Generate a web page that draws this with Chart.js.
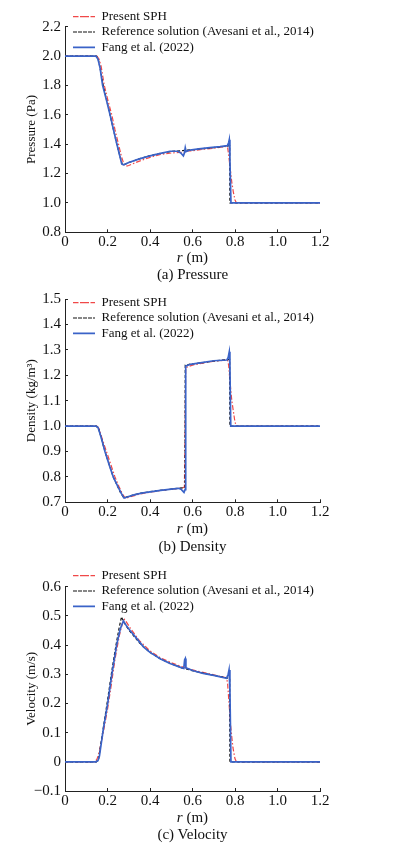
<!DOCTYPE html>
<html>
<head>
<title>Pressure, density and velocity</title>
<script src="https://cdn.jsdelivr.net/npm/chart.js"></script>
<style>
  body { margin: 0; background: #fff; width: 394px; height: 851px; position: relative; overflow: hidden;
         font-family: 'Liberation Serif', 'Times New Roman', serif; color: #111; }
  canvas { position: absolute; left: 0; }
  .lbl { position: absolute; left: 65px; width: 255px; text-align: center; font-size: 15px; line-height: 16px; }
</style>
</head>
<body>
<canvas id="c1" width="394" height="283" style="top:0px"></canvas>
<canvas id="c2" width="394" height="283" style="top:283px"></canvas>
<canvas id="c3" width="394" height="285" style="top:566px"></canvas>

<div class="lbl" style="top:249px"><i>r</i> (m)</div>
<div class="lbl" style="top:266px">(a) Pressure</div>
<div class="lbl" style="top:520px"><i>r</i> (m)</div>
<div class="lbl" style="top:538px">(b) Density</div>
<div class="lbl" style="top:809px"><i>r</i> (m)</div>
<div class="lbl" style="top:826px">(c) Velocity</div>

<script>
// legend names
const names = ['Present SPH', 'Reference solution (Avesani et al., 2014)', 'Fang et al. (2022)'];

// x ticks shared by all panels
const rTicks = [0, 0.2, 0.4, 0.6, 0.8, 1.0, 1.2];

// (a) pressure, [r, p]
const pressureTicks = [0.8, 1.0, 1.2, 1.4, 1.6, 1.8, 2.0, 2.2];
const pressureSPH = [[0,2.0],[0.15,2.0],[0.16,1.98],[0.17,1.93],[0.185,1.80],[0.20,1.71],[0.22,1.60],[0.235,1.50],
  [0.25,1.41],[0.265,1.32],[0.278,1.26],[0.288,1.25],[0.30,1.255],[0.35,1.285],[0.40,1.31],[0.45,1.33],[0.50,1.34],
  [0.55,1.345],[0.56,1.34],[0.575,1.355],[0.60,1.355],[0.65,1.365],[0.70,1.372],[0.76,1.385],[0.765,1.38],[0.77,1.33],
  [0.777,1.24],[0.785,1.14],[0.792,1.076],[0.80,1.02],[0.807,1.0],[1.2,1.0]];
const pressureRef = [[0,2.0],[0.148,2.0],[0.158,1.97],[0.17,1.88],[0.18,1.80],[0.212,1.60],[0.243,1.405],[0.262,1.30],
  [0.27,1.26],[0.28,1.262],[0.30,1.275],[0.35,1.30],[0.40,1.322],[0.45,1.338],[0.50,1.35],[0.55,1.356],[0.60,1.362],
  [0.65,1.37],[0.70,1.377],[0.75,1.385],[0.775,1.39],[0.776,1.0],[1.2,1.0]];
const pressureFang = [[0,2.0],[0.145,2.0],[0.155,1.98],[0.165,1.92],[0.177,1.80],[0.195,1.70],[0.212,1.60],[0.228,1.50],
  [0.243,1.406],[0.258,1.32],[0.267,1.265],[0.275,1.26],[0.285,1.265],[0.30,1.275],[0.35,1.30],[0.40,1.32],[0.45,1.337],
  [0.494,1.352],[0.53,1.352],[0.545,1.34],[0.557,1.32],[0.562,1.34],[0.566,1.376],[0.57,1.35],[0.588,1.36],[0.63,1.368],
  [0.682,1.376],[0.73,1.383],[0.764,1.39],[0.77,1.41],[0.773,1.43],[0.776,1.3],[0.781,1.0],[1.2,1.0]];

// (b) density, [r, rho]
const densityTicks = [0.7, 0.8, 0.9, 1.0, 1.1, 1.2, 1.3, 1.4, 1.5];
const densitySPH = [[0,1.0],[0.15,1.0],[0.16,0.99],[0.175,0.95],[0.195,0.90],[0.215,0.85],[0.235,0.80],[0.255,0.76],
  [0.272,0.73],[0.285,0.715],[0.30,0.72],[0.35,0.732],[0.40,0.74],[0.45,0.746],[0.50,0.752],[0.55,0.756],[0.562,0.76],
  [0.568,1.23],[0.60,1.24],[0.65,1.248],[0.70,1.255],[0.765,1.26],[0.77,1.24],[0.777,1.17],[0.785,1.1],[0.792,1.06],
  [0.80,1.015],[0.807,1.0],[1.2,1.0]];
const densityRef = [[0,1.0],[0.148,1.0],[0.16,0.985],[0.175,0.94],[0.19,0.895],[0.227,0.80],[0.26,0.74],[0.275,0.72],
  [0.285,0.72],[0.35,0.735],[0.40,0.742],[0.50,0.752],[0.565,0.758],[0.566,1.24],[0.60,1.245],[0.65,1.25],[0.70,1.256],
  [0.775,1.262],[0.776,1.0],[1.2,1.0]];
const densityFang = [[0,1.0],[0.145,1.0],[0.155,0.995],[0.165,0.97],[0.175,0.94],[0.188,0.90],[0.207,0.85],[0.227,0.80],
  [0.25,0.76],[0.265,0.735],[0.278,0.717],[0.29,0.72],[0.32,0.728],[0.36,0.736],[0.40,0.741],[0.45,0.747],[0.50,0.752],
  [0.535,0.755],[0.548,0.75],[0.56,0.739],[0.565,0.75],[0.568,1.236],[0.59,1.243],[0.636,1.249],[0.70,1.257],
  [0.762,1.26],[0.768,1.27],[0.773,1.292],[0.776,1.24],[0.78,1.0],[1.2,1.0]];

// (c) velocity, [r, u]
const velocityTicks = [-0.1, 0, 0.1, 0.2, 0.3, 0.4, 0.5, 0.6];
const velocitySPH = [[0,0],[0.14,0],[0.15,0.008],[0.16,0.03],[0.18,0.1],[0.2,0.18],[0.215,0.25],[0.235,0.35],
  [0.255,0.43],[0.27,0.475],[0.28,0.488],[0.29,0.478],[0.31,0.455],[0.35,0.415],[0.40,0.38],[0.45,0.356],[0.50,0.34],
  [0.55,0.326],[0.60,0.315],[0.70,0.298],[0.76,0.288],[0.765,0.27],[0.772,0.2],[0.78,0.12],[0.79,0.05],[0.80,0.01],
  [0.807,0],[1.2,0]];
const velocityRef = [[0,0],[0.148,0],[0.158,0.01],[0.18,0.115],[0.2,0.21],[0.22,0.31],[0.24,0.40],[0.255,0.46],
  [0.266,0.497],[0.27,0.49],[0.28,0.475],[0.30,0.452],[0.35,0.408],[0.40,0.375],[0.45,0.352],[0.50,0.336],[0.55,0.322],
  [0.60,0.312],[0.70,0.296],[0.775,0.286],[0.776,0],[1.2,0]];
const velocityFang = [[0,0],[0.145,0],[0.155,0.004],[0.162,0.02],[0.18,0.11],[0.201,0.20],[0.22,0.297],[0.243,0.40],
  [0.26,0.455],[0.275,0.483],[0.29,0.465],[0.306,0.45],[0.337,0.423],[0.369,0.394],[0.40,0.375],[0.45,0.352],
  [0.494,0.337],[0.55,0.322],[0.559,0.32],[0.563,0.35],[0.566,0.354],[0.569,0.322],[0.604,0.312],[0.65,0.303],
  [0.70,0.296],[0.76,0.286],[0.768,0.3],[0.772,0.315],[0.776,0.25],[0.781,0],[1.2,0]];

const serif = "'Liberation Serif', 'Times New Roman', serif";

function fmt(v) {
  if (Math.abs(v) < 1e-9) return '0';
  return v.toFixed(1).replace('-', '\u2212');
}

function toXY(arr) {
  return arr.map(p => ({x: p[0], y: p[1]}));
}

function makeChart(id, opt) {
  const h = document.getElementById(id).height;
  // datasets listed Fang first so it is drawn on top; legend reversed to read SPH, Ref, Fang
  const datasets = [
    {label: names[2], data: toXY(opt.fang), borderColor: '#3a63c8', borderWidth: 1.7},
    {label: names[1], data: toXY(opt.ref), borderColor: '#111', borderWidth: 1.2, borderDash: [3, 2]},
    {label: names[0], data: toXY(opt.sph), borderColor: '#f04848', borderWidth: 1.2, borderDash: [5, 2, 1.5, 2]}
  ];
  return new Chart(document.getElementById(id), {
    type: 'line',
    data: {datasets: datasets},
    options: {
      responsive: false,
      animation: false,
      devicePixelRatio: 1,
      layout: {padding: {left: 0, right: 74, top: opt.top, bottom: 0}},
      elements: {point: {radius: 0}, line: {tension: 0}},
      plugins: {
        tooltip: {enabled: false},
        legend: {
          position: 'chartArea',
          align: 'start',
          reverse: true,
          labels: {boxWidth: 22, boxHeight: 0, padding: 2.3, color: '#111',
                   font: {family: serif, size: 13}}
        }
      },
      scales: {
        x: {
          type: 'linear', min: 0, max: 1.2,
          afterBuildTicks: s => { s.ticks = rTicks.map(v => ({value: v})); },
          afterFit: s => { s.height = h - opt.bottom; },
          border: {color: '#222', width: 1},
          grid: {drawOnChartArea: false, tickLength: -3, color: '#222'},
          ticks: {color: '#111', padding: 4, maxRotation: 0, font: {family: serif, size: 15}, callback: fmt}
        },
        y: {
          type: 'linear', min: opt.yTicks[0], max: opt.yTicks[opt.yTicks.length - 1],
          afterBuildTicks: s => { s.ticks = opt.yTicks.map(v => ({value: v})); },
          afterFit: s => { s.width = 65; },
          border: {color: '#222', width: 1},
          grid: {drawOnChartArea: false, tickLength: -3, color: '#222'},
          ticks: {color: '#111', padding: 7, font: {family: serif, size: 15}, callback: fmt},
          title: {display: true, text: opt.yTitle, color: '#111', padding: {top: 24, bottom: 0},
                  font: {family: serif, size: 13}}
        }
      }
    },
    plugins: [{
      id: 'legendSpot',
      afterLayout(chart) {
        chart.legend.left = opt.legendX;
        chart.legend.top = opt.legendY;
      }
    }]
  });
}

makeChart('c1', {sph: pressureSPH, ref: pressureRef, fang: pressureFang, yTicks: pressureTicks,
  yTitle: 'Pressure (Pa)', top: 26.7, bottom: 232.3, legendX: 70.7, legendY: 7.9});
makeChart('c2', {sph: densitySPH, ref: densityRef, fang: densityFang, yTicks: densityTicks,
  yTitle: 'Density (kg/m\u00b3)', top: 14.3, bottom: 219.3, legendX: 70.7, legendY: 10.9});
makeChart('c3', {sph: velocitySPH, ref: velocityRef, fang: velocityFang, yTicks: velocityTicks,
  yTitle: 'Velocity (m/s)', top: 20.7, bottom: 225, legendX: 70.7, legendY: 0.9});
</script>
</body>
</html>
